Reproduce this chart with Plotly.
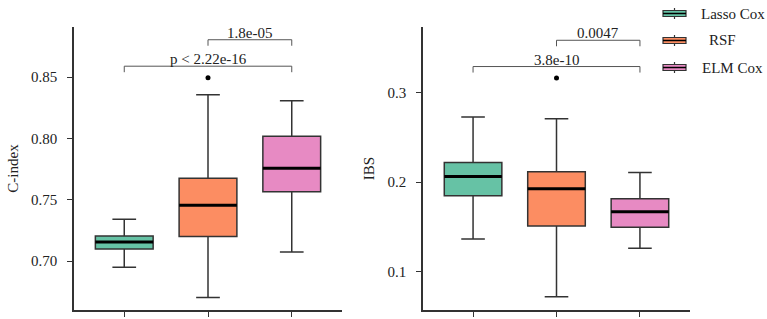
import plotly.graph_objects as go

# ---------------- data ----------------
models = ["Lasso Cox", "RSF", "ELM Cox"]
colors = ["#66C2A5", "#FC8D62", "#E78AC3"]

cindex_low = [0.6948, 0.6703, 0.7073]
cindex_q1 = [0.7098, 0.7200, 0.7565]
cindex_med = [0.7155, 0.7456, 0.7758]
cindex_q3 = [0.7204, 0.7676, 0.8019]
cindex_high = [0.7340, 0.8356, 0.8307]
cindex_outlier_x = [1]
cindex_outlier_y = [0.8495]

ibs_low = [0.1367, 0.0722, 0.1263]
ibs_q1 = [0.1849, 0.1511, 0.1497]
ibs_med = [0.2063, 0.1926, 0.1670]
ibs_q3 = [0.2219, 0.2115, 0.1816]
ibs_high = [0.2727, 0.2708, 0.2108]
ibs_outlier_x = [1]
ibs_outlier_y = [0.3160]

cindex_tests = [(0, 2, "p < 2.22e-16"), (1, 2, "1.8e-05")]
ibs_tests = [(0, 2, "3.8e-10"), (1, 2, "0.0047")]

# ---------------- figure ----------------
W, H = 767, 319
FONT = "Liberation Serif"
LINE = "#333333"
BOXW = 0.69

fig = go.Figure()

def add_panel(xa, ya, low, q1, med, q3, high, ox, oy):
    for i, m in enumerate(models):
        fig.add_trace(go.Box(
            x=[i], q1=[q1[i]], median=[med[i]], q3=[q3[i]],
            lowerfence=[low[i]], upperfence=[high[i]],
            width=BOXW, whiskerwidth=0.41,
            fillcolor=colors[i], line=dict(color=LINE, width=1.5),
            boxpoints=False, name=m, showlegend=False,
            xaxis=xa, yaxis=ya, hoverinfo="skip"))
        fig.add_trace(go.Scatter(
            x=[i - BOXW / 2, i + BOXW / 2], y=[med[i], med[i]],
            mode="lines", line=dict(color="black", width=3),
            showlegend=False, xaxis=xa, yaxis=ya, hoverinfo="skip"))
    fig.add_trace(go.Scatter(
        x=ox, y=oy, mode="markers", marker=dict(color="black", size=5),
        showlegend=False, xaxis=xa, yaxis=ya, hoverinfo="skip"))

add_panel("x", "y", cindex_low, cindex_q1, cindex_med, cindex_q3, cindex_high,
          cindex_outlier_x, cindex_outlier_y)
add_panel("x2", "y2", ibs_low, ibs_q1, ibs_med, ibs_q3, ibs_high,
          ibs_outlier_x, ibs_outlier_y)

shapes = []
annotations = []

def add_brackets(tests, levels, drop, xr, yr):
    for (a, b, label), lvl in zip(tests, levels):
        for (x0, y0, x1, y1) in [(a, lvl - drop, a, lvl), (a, lvl, b, lvl), (b, lvl, b, lvl - drop)]:
            shapes.append(dict(type="line", xref=xr, yref=yr, x0=x0, y0=y0, x1=x1, y1=y1,
                               line=dict(color="#555555", width=1)))
        annotations.append(dict(x=(a + b) / 2, y=lvl, xref=xr, yref=yr, text=label,
                                showarrow=False, yanchor="bottom", yshift=-3,
                                font=dict(family=FONT, size=15, color="#222222")))

add_brackets(cindex_tests, [0.859, 0.8806], 0.0049, "x", "y")
add_brackets(ibs_tests, [0.3289, 0.3582], 0.0067, "x2", "y2")

# custom legend (mini box icons + labels)
legend_y = [13.5, 40.5, 67.5]
legend_text_x = [699, 722, 700]
legend_anchor = ["left", "center", "left"]

def px(x):
    return x / W

def py(y):
    return 1 - y / H

for i, m in enumerate(models):
    cy = legend_y[i]
    x0, x1 = 663, 686
    xc = (x0 + x1) / 2
    shapes.append(dict(type="line", xref="paper", yref="paper", x0=px(xc), x1=px(xc),
                       y0=py(cy - 5.5), y1=py(cy + 5.5), line=dict(color=LINE, width=1.2)))
    shapes.append(dict(type="rect", xref="paper", yref="paper", x0=px(x0), x1=px(x1),
                       y0=py(cy - 3), y1=py(cy + 3), fillcolor=colors[i],
                       line=dict(color=LINE, width=1.2)))
    shapes.append(dict(type="line", xref="paper", yref="paper", x0=px(x0), x1=px(x1),
                       y0=py(cy), y1=py(cy), line=dict(color="black", width=1.5)))
    annotations.append(dict(x=legend_text_x[i] / W, y=py(cy), xref="paper", yref="paper",
                            text=m, showarrow=False, xanchor=legend_anchor[i], yanchor="middle",
                            font=dict(family=FONT, size=15, color="#222222")))

axis_common = dict(showline=True, linecolor=LINE, linewidth=1.5, showgrid=False,
                   zeroline=False, ticks="outside", ticklen=5, tickcolor=LINE,
                   tickwidth=1.2, tickfont=dict(family=FONT, size=15, color="#222222"))

fig.update_layout(
    width=W, height=H,
    margin=dict(l=0, r=0, t=0, b=0),
    paper_bgcolor="white", plot_bgcolor="white",
    font=dict(family=FONT, size=15, color="#222222"),
    shapes=shapes, annotations=annotations,
    xaxis=dict(domain=[74 / W, 342 / W], range=[-0.6, 2.6], tickvals=[0, 1, 2],
               ticktext=["", "", ""], anchor="y", **axis_common),
    yaxis=dict(domain=[1 - 310 / H, 1 - 27 / H], range=[0.660, 0.891],
               tickvals=[0.70, 0.75, 0.80, 0.85], ticktext=["0.70", "0.75", "0.80", "0.85"],
               ticklabelstandoff=7,
               title=dict(text="C-index", font=dict(family=FONT, size=15), standoff=9),
               anchor="x", **axis_common),
    xaxis2=dict(domain=[423 / W, 690 / W], range=[-0.6, 2.6], tickvals=[0, 1, 2],
                ticktext=["", "", ""], anchor="y2", **axis_common),
    yaxis2=dict(domain=[1 - 310 / H, 1 - 27 / H], range=[0.0574, 0.373],
                tickvals=[0.1, 0.2, 0.3], ticktext=["0.1", "0.2", "0.3"],
                ticklabelstandoff=7,
                title=dict(text="IBS", font=dict(family=FONT, size=15), standoff=9),
                anchor="x2", **axis_common),
)

fig.write_html("out.html",
               config={"displayModeBar": False},
               post_script="document.body.style.margin='0';document.body.style.overflow='hidden';")
